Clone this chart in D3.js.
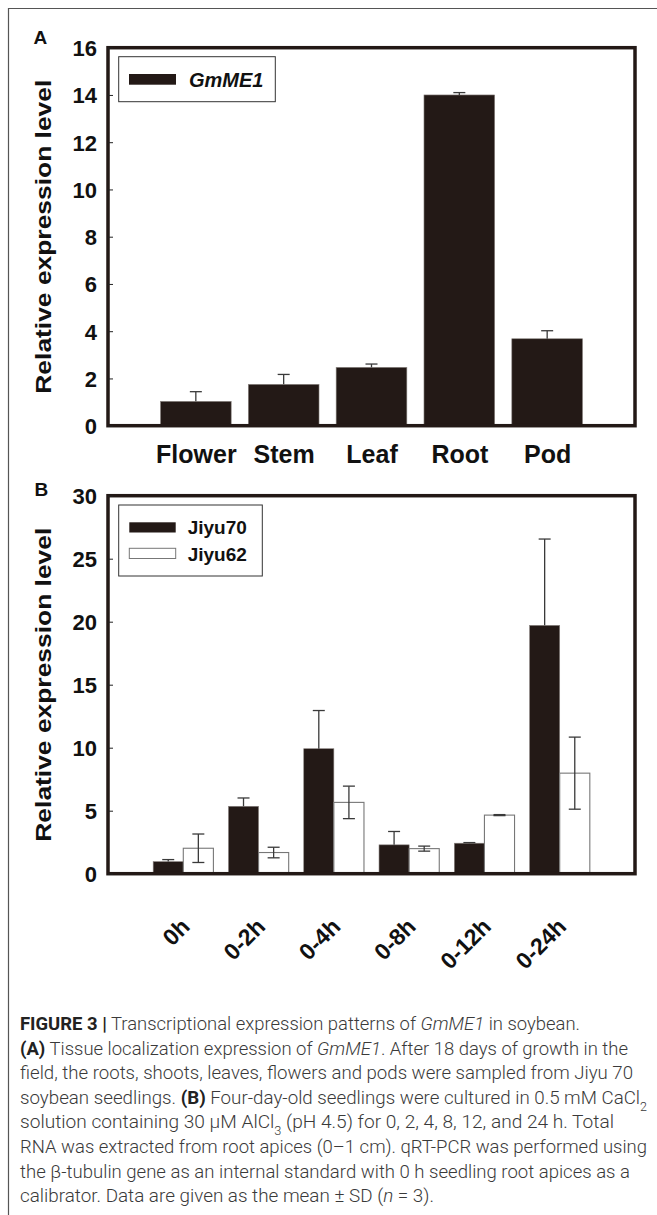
<!DOCTYPE html>
<html><head><meta charset="utf-8">
<script src="https://cdn.jsdelivr.net/npm/d3@7"></script>
<style>
html,body{margin:0;padding:0;background:#fff;}
svg{display:block;}
.bold{font-family:"Liberation Sans",Arial,Helvetica,sans-serif;font-weight:bold;fill:#111;}
</style></head>
<body><svg id="fig" width="657" height="1215"></svg>
<script>
// ---------- Data ----------
const tissues = ["Flower", "Stem", "Leaf", "Root", "Pod"];
const tissueMean = [1.03, 1.75, 2.47, 14.0, 3.68];
const tissueSD = [0.41, 0.42, 0.14, 0.10, 0.34];
const ticksA = [0, 2, 4, 6, 8, 10, 12, 14, 16];

const timepoints = ["0h", "0-2h", "0-4h", "0-8h", "0-12h", "0-24h"];
const seriesNames = ["Jiyu70", "Jiyu62"];
const jiyu70Mean = [0.96, 5.35, 9.92, 2.29, 2.42, 19.71];
const jiyu70SD = [0.16, 0.66, 3.03, 1.06, 0.05, 6.85];
const jiyu62Mean = [2.02, 1.68, 5.66, 1.99, 4.65, 7.98];
const jiyu62SD = [1.13, 0.42, 1.29, 0.20, 0.04, 2.86];
const ticksB = [0, 5, 10, 15, 20, 25, 30];

const captionLines = [
  [["b","FIGURE 3 |"],["n"," Transcriptional expression patterns of "],["i","GmME1"],["n"," in soybean."]],
  [["b","(A)"],["n"," Tissue localization expression of "],["i","GmME1"],["n",". After 18 days of growth in the"]],
  [["n","field, the roots, shoots, leaves, flowers and pods were sampled from Jiyu 70"]],
  [["n","soybean seedlings. "],["b","(B)"],["n"," Four-day-old seedlings were cultured in 0.5 mM CaCl"],["s","2"]],
  [["n","solution containing 30 \u03BCM AlCl"],["s","3"],["n"," (pH 4.5) for 0, 2, 4, 8, 12, and 24 h. Total"]],
  [["n","RNA was extracted from root apices (0\u20131 cm). qRT-PCR was performed using"]],
  [["n","the \u03B2-tubulin gene as an internal standard with 0 h seedling root apices as a"]],
  [["n","calibrator. Data are given as the mean \u00B1 SD ("],["i","n"],["n"," = 3)."]]
];
const captionWidths = [560, 608, 613, 627, 594, 627, 610, 414];

// ---------- Styles ----------
const INK = "#231916";
const ERR = "#3a3a3a";
const svg = d3.select("#fig");

// outer border (top + left)
svg.append("line").attr("x1",8).attr("y1",8.5).attr("x2",657).attr("y2",8.5).attr("stroke","#555").attr("stroke-width",1.2);
svg.append("line").attr("x1",8.5).attr("y1",8).attr("x2",8.5).attr("y2",1215).attr("stroke","#555").attr("stroke-width",1.2);

const X0 = 108, X1 = 635;

function yAxis(g, y, ticks) {
  g.call(d3.axisLeft(y).tickValues(ticks).tickSizeInner(-5).tickSizeOuter(0).tickPadding(11))
   .call(s => s.select(".domain").remove())
   .call(s => s.selectAll(".tick line").attr("stroke", "#222").attr("stroke-width", 1))
   .call(s => s.selectAll(".tick text").attr("class","bold").attr("font-size", 22).attr("dy","0.36em"));
}

function frame(top, bottom) {
  svg.append("rect").attr("x", X0).attr("y", top).attr("width", X1 - X0).attr("height", bottom - top)
    .attr("fill", "none").attr("stroke", INK).attr("stroke-width", 3.5);
}

function yLabel(cy) {
  svg.append("text").attr("class","bold").attr("font-size", 22)
    .attr("transform", `translate(50.5,${cy}) rotate(-90)`)
    .attr("text-anchor","middle")
    .attr("textLength", 314).attr("lengthAdjust","spacingAndGlyphs")
    .text("Relative expression level");
}

// ---------- Panel A ----------
const yA = d3.scaleLinear().domain([0, 16]).range([425.7, 47.7]);
const xA = d3.scalePoint().domain(tissues).range([X0, X1]).padding(1);
const bwA = xA.step() * 0.805;

const gA = svg.append("g");
gA.selectAll("rect.bar").data(tissues).join("rect")
  .attr("x", d => xA(d) - bwA/2).attr("width", bwA)
  .attr("y", (d,i) => yA(tissueMean[i])).attr("height", (d,i) => yA(0) - yA(tissueMean[i]))
  .attr("fill", INK).attr("stroke", "#8a8480").attr("stroke-width", 0.6);
gA.selectAll("line.err").data(tissues).join("line")
  .attr("x1", d => xA(d)).attr("x2", d => xA(d))
  .attr("y1", (d,i) => yA(tissueMean[i])).attr("y2", (d,i) => yA(tissueMean[i] + tissueSD[i]))
  .attr("stroke", ERR).attr("stroke-width", 1.3);
gA.selectAll("line.cap").data(tissues).join("line")
  .attr("x1", d => xA(d) - 6).attr("x2", d => xA(d) + 6)
  .attr("y1", (d,i) => yA(tissueMean[i] + tissueSD[i])).attr("y2", (d,i) => yA(tissueMean[i] + tissueSD[i]))
  .attr("stroke", ERR).attr("stroke-width", 1.3);
frame(47.7, 425.7);
svg.append("g").attr("transform", `translate(${X0},0)`).call(g => yAxis(g, yA, ticksA));
svg.append("g").attr("transform", `translate(0,${yA(0)})`)
  .call(d3.axisBottom(xA).tickSize(0).tickPadding(0))
  .call(s => s.select(".domain").remove())
  .call(s => s.selectAll(".tick text").attr("class","bold").attr("font-size", 25).attr("y", 37).attr("dy", 0));
yLabel((47.7 + 425.7) / 2);
svg.append("text").attr("class","bold").attr("font-size",19).attr("x",33.5).attr("y",44).text("A");
// legend A
svg.append("rect").attr("x",118.7).attr("y",56.7).attr("width",156.6).attr("height",45)
  .attr("fill","#fff").attr("stroke","#333").attr("stroke-width",1);
svg.append("rect").attr("x",129).attr("y",74).attr("width",47).attr("height",10.7).attr("fill",INK);
svg.append("text").attr("class","bold").attr("font-size",20).attr("font-style","italic")
  .attr("x",189).attr("y",87).text("GmME1");

// ---------- Panel B ----------
const yB = d3.scaleLinear().domain([0, 30]).range([873.7, 495.7]);
const xB = d3.scalePoint().domain(timepoints).range([X0, X1]).padding(1);
const bwB = xB.step() * 0.40;
const xS = d3.scaleBand().domain(seriesNames).range([-bwB, bwB]).padding(0);
const means = {Jiyu70: jiyu70Mean, Jiyu62: jiyu62Mean};
const sds = {Jiyu70: jiyu70SD, Jiyu62: jiyu62SD};
const recs = [];
timepoints.forEach((t,i) => seriesNames.forEach(s => recs.push({t, s, m: means[s][i], sd: sds[s][i]})));
const cxOf = d => xB(d.t) + xS(d.s) + xS.bandwidth()/2;

const gB = svg.append("g");
gB.selectAll("rect.bar").data(recs).join("rect")
  .attr("x", d => xB(d.t) + xS(d.s)).attr("width", xS.bandwidth())
  .attr("y", d => yB(d.m)).attr("height", d => yB(0) - yB(d.m))
  .attr("fill", d => d.s === "Jiyu70" ? INK : "#fff")
  .attr("stroke", d => d.s === "Jiyu70" ? "#8a8480" : "#777")
  .attr("stroke-width", d => d.s === "Jiyu70" ? 0.6 : 1.1);
gB.selectAll("line.err").data(recs).join("line")
  .attr("x1", cxOf).attr("x2", cxOf)
  .attr("y1", d => d.s === "Jiyu70" ? yB(d.m) : yB(d.m - d.sd)).attr("y2", d => yB(d.m + d.sd))
  .attr("stroke", ERR).attr("stroke-width", 1.3);
gB.selectAll("line.capT").data(recs).join("line")
  .attr("x1", d => cxOf(d) - 6).attr("x2", d => cxOf(d) + 6)
  .attr("y1", d => yB(d.m + d.sd)).attr("y2", d => yB(d.m + d.sd))
  .attr("stroke", ERR).attr("stroke-width", 1.3);
gB.selectAll("line.capB").data(recs.filter(d => d.s === "Jiyu62")).join("line")
  .attr("x1", d => cxOf(d) - 6).attr("x2", d => cxOf(d) + 6)
  .attr("y1", d => yB(d.m - d.sd)).attr("y2", d => yB(d.m - d.sd))
  .attr("stroke", ERR).attr("stroke-width", 1.3);
frame(495.7, 873.7);
svg.append("g").attr("transform", `translate(${X0},0)`).call(g => yAxis(g, yB, ticksB));
svg.append("g").selectAll("text").data(timepoints).join("text")
  .attr("class","bold").attr("font-size",23).attr("text-anchor","end")
  .attr("transform", d => `translate(${xB(d) + 8},928) rotate(-45)`)
  .text(d => d);
yLabel((495.7 + 873.7) / 2);
svg.append("text").attr("class","bold").attr("font-size",19).attr("x",34.5).attr("y",495.5).text("B");
// legend B
svg.append("rect").attr("x",118.7).attr("y",505).attr("width",143.6).attr("height",71)
  .attr("fill","#fff").attr("stroke","#333").attr("stroke-width",1);
const legB = [{s:"Jiyu70", y:522.3, ty:534.3}, {s:"Jiyu62", y:548.3, ty:560.8}];
svg.selectAll("rect.legsw").data(legB).join("rect")
  .attr("x",129.3).attr("y",d=>d.y).attr("width",46.4).attr("height",10.2)
  .attr("fill", d => d.s === "Jiyu70" ? INK : "#fff")
  .attr("stroke", d => d.s === "Jiyu70" ? "none" : "#777").attr("stroke-width",1);
svg.selectAll("text.legt").data(legB).join("text")
  .attr("class","bold").attr("font-size",19).attr("x",187.7).attr("y",d=>d.ty).text(d=>d.s);

// ---------- Caption ----------
const cap = svg.append("g").attr("font-family", "Roboto,'Liberation Sans',Arial,sans-serif")
  .attr("font-weight", 300).attr("font-size", 18).attr("fill", "#3a3a3a");
captionLines.forEach((parts, i) => {
  const t = cap.append("text").attr("x", 20).attr("y", 1030 + i * 24.6)
    .attr("textLength", captionWidths[i]).attr("lengthAdjust", "spacingAndGlyphs");
  parts.forEach(([k, str]) => {
    const ts = t.append("tspan").text(str);
    if (k === "b") ts.attr("font-weight", "bold").attr("fill", "#222");
    if (k === "i") ts.attr("font-style", "italic");
    if (k === "s") ts.attr("font-size", 12).attr("baseline-shift", "sub");
  });
});
</script></body></html>
